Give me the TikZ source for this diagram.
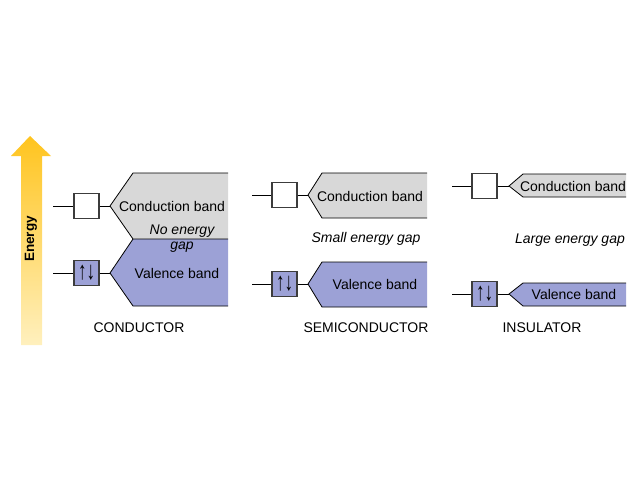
\documentclass[tikz,border=0pt]{standalone}
\usepackage{fontspec}
\usepackage{graphicx}
\setmainfont{Liberation Sans}
\usetikzlibrary{arrows}

\definecolor{bandgray}{RGB}{216,216,216}
\definecolor{bandblue}{RGB}{156,161,214}
\definecolor{edgegray}{RGB}{60,60,60}
\definecolor{energytop}{RGB}{255,196,30}
\definecolor{energybot}{RGB}{255,240,190}

\newcommand{\spins}{\scalebox{1}[1.5]{↑↓}}

\tikzset{
  txt/.style={font=\fontsize{14}{16}\selectfont, inner sep=0pt},
  gaptxt/.style={txt, font=\fontsize{14}{16}\selectfont\itshape},
  orbit/.style={draw=edgegray, line width=1.2pt, minimum size=25pt, inner sep=0pt, fill=white, font=\fontsize{17}{18}\selectfont},
  full/.style={orbit, fill=bandblue},
  lead/.style={line width=0.8pt, black},
  rim/.style={draw=black, line width=0.8pt}
}

\begin{document}
\begin{tikzpicture}[x=1pt,y=-1pt]
\useasboundingbox (0,0) rectangle (640,480);
% energy arrow
\shade[top color=energytop, bottom color=energybot]
  (21,345) -- (21,156) -- (11,156) -- (30,136) -- (51,156) -- (42,156) -- (42,345) -- cycle;
\node[txt, rotate=90, font=\fontsize{13.5}{15}\selectfont\bfseries] (energy) at (31,239) {Energy};

%%% conductor
\fill[bandgray] (110,206) -- (133,173) -- (228,173) -- (228,239) -- (133,239) -- cycle;
\fill[bandblue] (110,273) -- (133,239) -- (228,239) -- (228,306) -- (133,306) -- cycle;
\draw[rim] (228,173) -- (133,173) -- (110,206) -- (133,239) -- (228,239);
\draw[rim] (133,239) -- (110,273) -- (133,306) -- (228,306);
\coordinate (cc0) at (53,206);
\coordinate (cctip) at (110,206);
\coordinate (cv0) at (53,273);
\coordinate (cvtip) at (110,273);
\node[orbit] (ccbox) at (86.5,206) {};
\node[full] (cvbox) at (86.5,273) {\spins};
\draw[lead] (cc0) -- (ccbox) -- (cctip);
\draw[lead] (cv0) -- (cvbox) -- (cvtip);
\node[txt] (ccband) at (172,206) {Conduction band};
\node[gaptxt] (cgap1) at (182,231) {No energy};
\node[gaptxt] (cgap2) at (182,247) {gap};
\node[txt] (cvband) at (177,273) {Valence band};
\node[txt] (clabel) at (139,328) {CONDUCTOR};

%%% semiconductor
\fill[bandgray] (308,195) -- (322,173) -- (427,173) -- (427,218) -- (322,218) -- cycle;
\fill[bandblue] (308,284) -- (322,262) -- (427,262) -- (427,307) -- (322,307) -- cycle;
\draw[rim] (427,173) -- (322,173) -- (308,195) -- (322,218) -- (427,218);
\draw[rim] (427,262) -- (322,262) -- (308,284) -- (322,307) -- (427,307);
\coordinate (sc0) at (252,195);
\coordinate (sctip) at (308,195);
\coordinate (sv0) at (252,284);
\coordinate (svtip) at (308,284);
\node[orbit] (scbox) at (284.5,195) {};
\node[full] (svbox) at (284.5,284) {\spins};
\draw[lead] (sc0) -- (scbox) -- (sctip);
\draw[lead] (sv0) -- (svbox) -- (svtip);
\node[txt] (scband) at (370,196) {Conduction band};
\node[gaptxt] (sgap) at (366,239) {Small energy gap};
\node[txt] (svband) at (375,284) {Valence band};
\node[txt] (slabel) at (366,328) {SEMICONDUCTOR};

%%% insulator
\fill[bandgray] (509,186) -- (523,174) -- (626,174) -- (626,197) -- (523,197) -- cycle;
\fill[bandblue] (509,294) -- (523,283) -- (626,283) -- (626,306) -- (523,306) -- cycle;
\draw[rim] (626,174) -- (523,174) -- (509,186) -- (523,197) -- (626,197);
\draw[rim] (626,283) -- (523,283) -- (509,294) -- (523,306) -- (626,306);
\coordinate (ic0) at (452,186);
\coordinate (ictip) at (509,186);
\coordinate (iv0) at (452,294);
\coordinate (ivtip) at (509,294);
\node[orbit] (icbox) at (484.5,186) {};
\node[full] (ivbox) at (484.5,294) {\spins};
\draw[lead] (ic0) -- (icbox) -- (ictip);
\draw[lead] (iv0) -- (ivbox) -- (ivtip);
\node[txt] (icband) at (573,186) {Conduction band};
\node[gaptxt] (igap) at (570,240) {Large energy gap};
\node[txt] (ivband) at (574,294) {Valence band};
\node[txt] (ilabel) at (542,328) {INSULATOR};
\end{tikzpicture}
\end{document}
